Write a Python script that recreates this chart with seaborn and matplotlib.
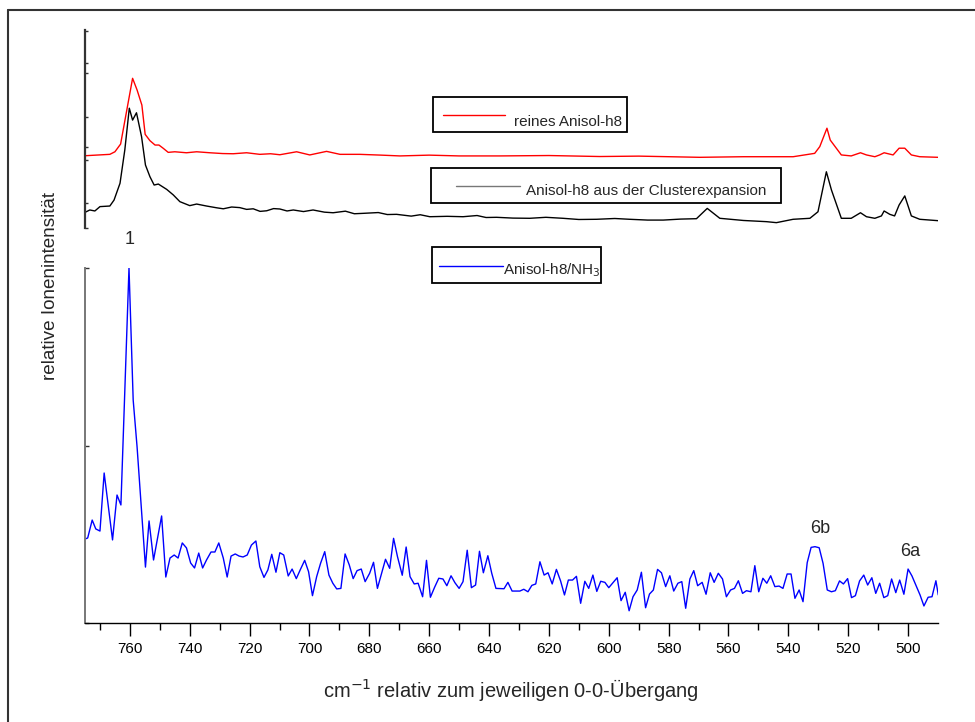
import numpy as np
import pandas as pd
import matplotlib
matplotlib.use("Agg")
import matplotlib.pyplot as plt
from matplotlib.patches import Rectangle
from matplotlib.lines import Line2D
import seaborn as sns

# ---------------- data ----------------
blue_x = [775.0, 774.1, 772.6, 771.4, 770.0, 768.6, 765.8, 764.3, 763.0, 760.3, 758.9, 757.6,
          754.8, 753.6, 752.1, 749.4, 748.0, 746.6, 745.2, 743.9, 742.5, 741.1, 739.7, 738.4,
          737.0, 735.7, 734.4, 732.9, 731.6, 730.3, 728.8, 727.5, 726.2, 724.8, 723.5, 722.2,
          720.8, 719.4, 717.9, 716.6, 715.2, 713.9, 712.6, 711.2, 709.9, 708.6, 707.1, 705.8,
          704.4, 703.1, 701.6, 700.3, 699.0, 697.6, 696.3, 694.9, 693.5, 692.2, 690.9, 689.5,
          688.1, 686.7, 685.4, 684.1, 682.7, 681.4, 679.9, 678.6, 677.3, 675.9, 674.6, 673.2,
          671.9, 670.6, 669.0, 667.7, 666.4, 665.0, 663.7, 662.2, 660.9, 659.6, 658.2, 656.8,
          655.4, 654.1, 652.7, 651.4, 650.0, 648.7, 647.3, 645.9, 644.5, 643.2, 641.9, 640.4,
          639.1, 637.7, 636.4, 635.0, 633.7, 632.3, 631.0, 629.7, 628.4, 627.0, 625.7, 624.4,
          623.0, 621.6, 620.3, 618.9, 617.5, 616.1, 614.8, 613.5, 612.1, 610.8, 609.4, 608.0,
          606.7, 605.3, 604.0, 602.7, 601.3, 600.0, 598.5, 597.2, 595.9, 594.5, 593.2, 591.9,
          590.5, 589.1, 587.7, 586.4, 585.1, 583.7, 582.4, 581.0, 579.6, 578.3, 576.9, 575.6,
          574.3, 572.9, 571.6, 570.3, 568.8, 567.5, 566.1, 564.8, 563.4, 562.0, 560.7, 559.3,
          558.0, 556.7, 555.3, 554.0, 552.5, 551.2, 549.9, 548.5, 547.2, 545.9, 544.5, 543.1,
          541.8, 540.4, 539.1, 537.8, 536.4, 535.1, 533.7, 532.4, 531.1, 529.7, 528.4, 527.0,
          525.6, 524.3, 522.9, 521.6, 520.2, 518.9, 517.6, 516.2, 514.8, 513.5, 512.1, 510.8,
          509.5, 508.1, 506.8, 505.5, 504.1, 502.8, 501.4, 500.0, 498.7, 497.4, 496.0, 494.7,
          493.3, 492.0, 490.7, 489.9]
blue_y = [0.473, 0.479, 0.580, 0.530, 0.518, 0.845, 0.468, 0.721, 0.665, 2.000, 1.256, 0.992,
          0.315, 0.575, 0.355, 0.603, 0.259, 0.366, 0.383, 0.366, 0.451, 0.423, 0.338, 0.310,
          0.394, 0.310, 0.355, 0.400, 0.400, 0.451, 0.366, 0.259, 0.377, 0.389, 0.377, 0.372,
          0.383, 0.439, 0.462, 0.317, 0.257, 0.299, 0.387, 0.286, 0.396, 0.383, 0.265, 0.304,
          0.250, 0.299, 0.353, 0.289, 0.154, 0.261, 0.336, 0.402, 0.270, 0.224, 0.192, 0.195,
          0.389, 0.327, 0.250, 0.295, 0.304, 0.233, 0.280, 0.342, 0.195, 0.280, 0.359, 0.308,
          0.477, 0.374, 0.269, 0.428, 0.261, 0.220, 0.224, 0.148, 0.353, 0.145, 0.201, 0.252,
          0.248, 0.210, 0.266, 0.227, 0.195, 0.233, 0.410, 0.199, 0.214, 0.404, 0.283, 0.379,
          0.280, 0.195, 0.194, 0.193, 0.229, 0.180, 0.180, 0.180, 0.190, 0.176, 0.212, 0.220,
          0.345, 0.270, 0.283, 0.220, 0.302, 0.237, 0.158, 0.242, 0.242, 0.263, 0.111, 0.235,
          0.195, 0.270, 0.178, 0.235, 0.229, 0.199, 0.229, 0.255, 0.126, 0.173, 0.069, 0.148,
          0.186, 0.286, 0.086, 0.163, 0.186, 0.302, 0.283, 0.205, 0.266, 0.180, 0.224, 0.233,
          0.083, 0.248, 0.295, 0.210, 0.229, 0.162, 0.283, 0.229, 0.280, 0.248, 0.148, 0.186,
          0.195, 0.238, 0.167, 0.182, 0.176, 0.323, 0.176, 0.252, 0.224, 0.266, 0.205, 0.208,
          0.195, 0.276, 0.276, 0.139, 0.186, 0.120, 0.340, 0.426, 0.430, 0.424, 0.336, 0.186,
          0.176, 0.182, 0.237, 0.220, 0.250, 0.143, 0.154, 0.237, 0.270, 0.214, 0.255, 0.167,
          0.224, 0.143, 0.154, 0.248, 0.171, 0.242, 0.162, 0.304, 0.265, 0.214, 0.158, 0.096,
          0.145, 0.148, 0.238, 0.158]

red_x = [775.0, 766.7, 765.0, 763.1, 759.1, 757.6, 756.0, 754.9, 753.3, 751.6, 750.3, 748.9,
         747.2, 745.0, 741.1, 737.7, 733.3, 729.0, 725.5, 721.0, 716.6, 713.0, 709.9, 704.3,
         699.9, 694.3, 689.8, 683.2, 676.0, 669.8, 660.0, 650.0, 636.4, 620.0, 603.0, 590.0,
         569.6, 555.0, 538.4, 531.2, 529.5, 527.1, 526.0, 522.3, 519.0, 515.9, 513.9, 511.1,
         509.5, 508.0, 505.0, 503.0, 501.1, 498.9, 496.1, 490.0]
red_y = [36.5, 37.2, 38.5, 42.4, 75.6, 69.7, 62.1, 47.3, 44.1, 41.9, 41.9, 40.3,
         38.2, 38.5, 38.0, 38.5, 38.0, 37.6, 37.5, 38.0, 37.2, 37.5, 37.0, 38.5,
         36.9, 38.7, 37.2, 37.2, 36.8, 36.4, 36.8, 36.4, 36.4, 36.6, 36.1, 36.3,
         35.7, 36.0, 36.0, 37.7, 41.1, 50.4, 44.4, 36.9, 36.4, 38.0, 36.9, 36.0,
         36.9, 38.0, 36.9, 40.3, 40.3, 36.9, 36.0, 35.7]

black_x = [775.0, 773.4, 771.7, 770.0, 766.7, 765.3, 763.3, 761.7, 760.2, 759.1, 757.8, 756.1,
           754.8, 753.3, 751.9, 750.5, 747.7, 745.5, 743.3, 740.0, 737.7, 734.4, 731.0, 728.8,
           726.0, 723.3, 721.0, 718.8, 716.5, 714.3, 712.0, 709.9, 707.5, 705.4, 702.0, 698.8,
           695.0, 692.1, 688.0, 685.0, 682.1, 677.0, 674.0, 670.9, 666.0, 663.0, 659.8, 654.0,
           648.7, 644.0, 641.0, 637.5, 632.0, 626.4, 621.0, 615.3, 610.0, 604.1, 598.0, 593.0,
           587.0, 581.8, 576.0, 570.7, 567.1, 562.9, 555.0, 547.3, 544.0, 538.4, 532.8, 530.1,
           527.3, 525.6, 522.3, 519.0, 515.9, 513.9, 511.1, 508.9, 508.0, 506.1, 504.5, 503.0,
           501.1, 498.9, 496.1, 490.0]
black_y = [7.9, 9.1, 8.6, 10.8, 11.1, 14.1, 22.6, 39.4, 60.5, 54.5, 58.2, 46.1,
           31.8, 25.9, 21.7, 22.2, 19.5, 16.7, 13.3, 11.3, 12.1, 11.1, 10.2, 9.7,
           10.6, 10.3, 9.4, 9.7, 8.4, 8.7, 9.8, 9.6, 8.6, 9.1, 8.3, 9.1,
           8.0, 7.7, 8.5, 7.2, 7.4, 7.8, 6.8, 6.9, 6.0, 6.7, 5.7, 5.9,
           5.7, 6.3, 5.3, 5.4, 5.0, 4.9, 5.4, 4.9, 4.3, 4.4, 4.8, 4.4,
           4.0, 4.0, 4.5, 4.7, 9.9, 4.9, 3.8, 3.2, 2.7, 4.4, 4.9, 8.2,
           28.4, 19.2, 4.9, 4.9, 7.7, 5.7, 4.9, 6.1, 8.6, 6.9, 6.1, 11.6,
           16.2, 6.1, 4.4, 3.7]

upper_ticks = [0, 12.6, 34.3, 40.9, 56.1, 78.3, 83.3, 99.5]
x_major = [760, 740, 720, 700, 680, 660, 640, 620, 600, 580, 560, 540, 520, 500]
x_minor = [770, 750, 730, 710, 690, 670, 650, 630, 610, 590, 570, 550, 530, 510]
lower_ticks = [0, 1, 2]

peak_labels = ["1", "6b", "6a"]
peak_x = [760.0, 529.5, 499.4]
peak_y = [2.158, 0.530, 0.400]

# ---------------- figure ----------------
sns.set_theme(style="white")
plt.rcParams['font.family'] = ['Liberation Sans', 'DejaVu Sans']

W, H = 975, 722
fig = plt.figure(figsize=(W / 100, H / 100), dpi=100)

def fx(px):
    return px / W

def fy(py):
    return 1 - py / H

ax_top = fig.add_axes([fx(85), fy(228), fx(938) - fx(85), fy(30) - fy(228)])
ax_bot = fig.add_axes([fx(85), fy(623), fx(938) - fx(85), fy(268) - fy(623)])

df_red = pd.DataFrame({"x": red_x, "y": red_y})
df_black = pd.DataFrame({"x": black_x, "y": black_y})
df_blue = pd.DataFrame({"x": blue_x, "y": blue_y})

sns.lineplot(data=df_red, x="x", y="y", ax=ax_top, color="#ff0000", lw=1.0, sort=False)
sns.lineplot(data=df_black, x="x", y="y", ax=ax_top, color="black", lw=1.0, sort=False)
sns.lineplot(data=df_blue, x="x", y="y", ax=ax_bot, color="#0000ff", lw=1.0, sort=False)

for ax in (ax_top, ax_bot):
    ax.set_xlim(775, 490)
    ax.set_facecolor("none")
    ax.set_xlabel("")
    ax.set_ylabel("")
    for s in ("top", "right"):
        ax.spines[s].set_visible(False)

ax_top.set_ylim(0, 100)
ax_top.spines["bottom"].set_visible(False)
ax_top.spines["left"].set_color("#333333")
ax_top.spines["left"].set_linewidth(1.6)
ax_top.set_xticks([])
ax_top.set_yticks(upper_ticks)
ax_top.set_yticklabels([])
ax_top.tick_params(axis="y", left=True, direction="in", length=2.5, width=1, color="#333333")

ax_bot.set_ylim(0, 2)
ax_bot.spines["left"].set_color("#777777")
ax_bot.spines["left"].set_linewidth(1.4)
ax_bot.spines["bottom"].set_color("black")
ax_bot.spines["bottom"].set_linewidth(1.0)
ax_bot.set_yticks(lower_ticks)
ax_bot.set_yticklabels([])
ax_bot.tick_params(axis="y", left=True, direction="in", length=3, width=1, color="#333333")
ax_bot.set_xticks(x_major)
ax_bot.set_xticklabels([str(v) for v in x_major], fontsize=11)
ax_bot.set_xticks(x_minor, minor=True)
ax_bot.tick_params(axis="x", which="major", bottom=True, direction="out", length=9, width=1,
                   color="black", pad=5, labelcolor="black")
ax_bot.tick_params(axis="x", which="minor", bottom=True, direction="out", length=5, width=1,
                   color="black")

# peak annotations
for lab, px_, py_ in zip(peak_labels, peak_x, peak_y):
    ax_bot.text(px_, py_, lab, ha="center", va="center", fontsize=13, clip_on=False)

# axis labels
fig.text(fx(511), fy(690), "cm$^{-1}$ relativ zum jeweiligen 0-0-Übergang", ha="center",
         va="center", fontsize=14.5)
fig.text(fx(51), fy(286), "relative Ionenintensität", rotation=90, ha="center", va="center",
         fontsize=13.6)

# legend boxes
def legend_box(x0, y0, x1, y1, lx0, lx1, ly, color, tx, ty, label):
    fig.add_artist(Rectangle((fx(x0), fy(y1)), fx(x1) - fx(x0), fy(y0) - fy(y1),
                             transform=fig.transFigure, fill=False, edgecolor="black", lw=1.3))
    fig.add_artist(Line2D([fx(lx0), fx(lx1)], [fy(ly), fy(ly)], transform=fig.transFigure,
                          color=color, lw=1.0))
    fig.text(fx(tx), fy(ty), label, ha="left", va="center", fontsize=11)

legend_box(433, 97, 627, 132, 443, 505, 115, "#ff0000", 514, 122, "reines Anisol-h8")
legend_box(431, 168, 781, 203, 456, 520, 186.5, "#777777", 526, 191.5,
           "Anisol-h8 aus der Clusterexpansion")
legend_box(432, 247, 601, 283, 439, 503, 265.5, "#0000ff", 503, 270, "Anisol-h8/NH$_3$")

# outer frame (only left and top visible)
fig.add_artist(Line2D([fx(8), fx(8)], [fy(10), 0], transform=fig.transFigure, color="#333333", lw=1.5))
fig.add_artist(Line2D([fx(8), 1], [fy(10), fy(10)], transform=fig.transFigure, color="#333333", lw=1.5))

fig.savefig("out.png", dpi=100, facecolor="white")
